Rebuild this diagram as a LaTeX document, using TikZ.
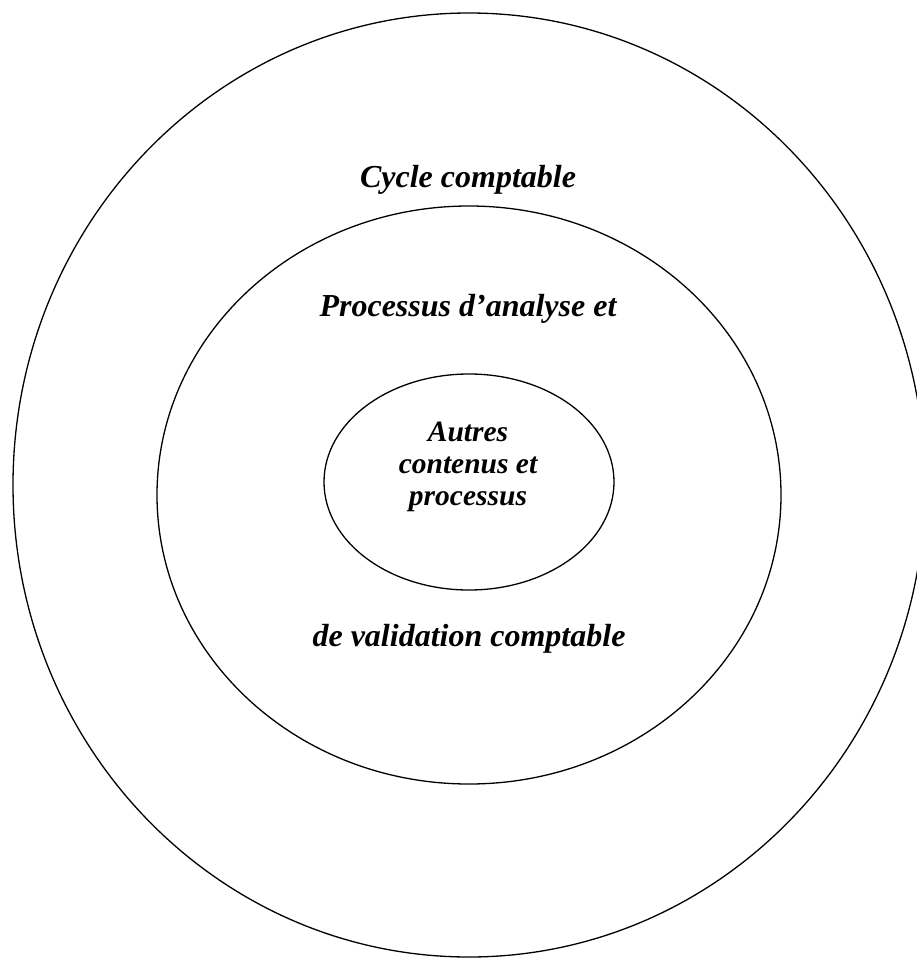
\documentclass[tikz,border=0pt]{standalone}
\usepackage{fontspec}
\setmainfont{Liberation Serif}
\usetikzlibrary{shapes.geometric}
\begin{document}
\begin{tikzpicture}[x=1pt,y=1pt,
  ring/.style={draw, ellipse, line width=1.3pt, inner sep=0pt},
  lbl/.style={font=\fontsize{32}{34}\selectfont\bfseries\itshape, anchor=base, inner sep=0pt},
  innerlbl/.style={font=\fontsize{29.5}{32}\selectfont\bfseries\itshape, align=center, inner sep=0pt}]
\useasboundingbox (0,0) rectangle (917,-959);
\clip (0,0) rectangle (917,-959);
\fill[white] (0,0) rectangle (917,-959);
\node[ring, minimum width=912pt, minimum height=944pt] (outer) at (469,-485) {};
\node[ring, minimum width=624pt, minimum height=578pt] (middle) at (469,-495) {};
\node[ring, minimum width=290pt, minimum height=216pt] (inner) at (469,-482) {};
\node[lbl] (cycle) at (468,-187) {Cycle comptable};
\node[lbl] (proc) at (468,-316) {Processus d’analyse et};
\node[lbl] (valid) at (469,-646) {de validation comptable};
\node[innerlbl] (autres) at (468,-467) {Autres\\contenus et\\processus};
\end{tikzpicture}
\end{document}
